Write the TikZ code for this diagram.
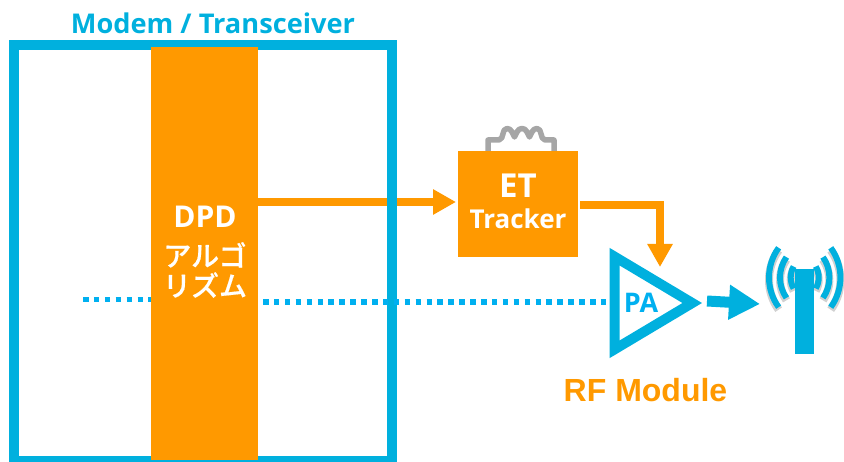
\documentclass[tikz,border=0pt]{standalone}
\usepackage{fontspec}
\setmainfont{Open Sans}
\newfontfamily\cjk[FakeBold=0.5]{Noto Sans CJK JP Medium}
\newfontfamily\rffont{Liberation Sans}
\usetikzlibrary{arrows.meta,shapes.geometric,backgrounds}
\definecolor{boxblue}{HTML}{00B0DE}
\definecolor{dotblue}{HTML}{00B0F0}
\definecolor{flowora}{HTML}{FF9900}
\definecolor{coilgray}{HTML}{A6A6A6}
\begin{document}
\begin{tikzpicture}[x=1pt, y=-1pt,
    block/.style ={rectangle, fill=flowora, inner sep=0pt, outer sep=0pt},
    modembox/.style ={rectangle, draw=boxblue, line width=10pt, inner sep=0pt, outer sep=0pt,
      minimum width=378pt, minimum height=416pt},
    amp/.style ={isosceles triangle, isosceles triangle stretches, draw=boxblue, line width=10pt,
      inner sep=0pt, outer sep=0pt, minimum width=92.5pt, minimum height=77.5pt},
    whitetext/.style ={text=white, inner sep=0pt},
    flow/.style ={draw=flowora, line width=8pt, -{Triangle[length=23pt, width=24pt]}},
    rfflow/.style ={draw=boxblue, line width=11pt, -{Triangle[length=31pt, width=33pt]}},
    dotline/.style ={draw=dotblue, line width=5.5pt, dash pattern=on 5.5pt off 5.4pt},
    wave/.style ={draw=boxblue, line width=6pt},
    waveshade/.style ={draw=black, opacity=.18, line width=8pt}]
   \useasboundingbox (0,0) rectangle (844,462);
   % blocks
   \node[block, minimum width=107pt, minimum height=413pt] (dpd) at (204.5,253.5) {};
   \node[block, minimum width=120pt, minimum height=106pt] (et) at (518,204) {};
   \node[amp, text=dotblue, font=\bfseries\fontsize{27}{30}\selectfont] (pa) at (641,303) {PA};
   % free ends
   \coordinate (etin) at (456,202);
   \coordinate (etout) at (580,205);
   \coordinate (pain) at (660,267);
   \coordinate (paout) at (707,301);
   \coordinate (mastin) at (760,304);
   \coordinate (dotleft) at (83,299.5);
   \coordinate (dotright) at (606,302);
   \begin{scope}[on background layer]
     \draw[flow] (dpd.east |- etin) -- (etin);
     \node[modembox] (modem) at (203,253) {};
   \end{scope}
   \draw[flow] (etout) -| (pain);
   \draw[rfflow] (paout) -- (mastin);
   \draw[dotline] (dotleft) -- (dotleft -| dpd.west);
   \draw[dotline, shorten <=5pt] (dpd.east |- dotright) -- (dotright);
   % coil
   \draw[draw=coilgray, line width=5.5pt, line join=round] (488,151) -- (488,140) -- (499,140)
     to[out=10, in=180] (507,128.5) to[out=0, in=120] (514.5,137) to[out=60, in=180] (522,128.5)
     to[out=0, in=120] (529.5,137) to[out=60, in=180] (537,128.5) to[out=0, in=170] (545,140)
     -- (554,140) -- (554,151);
   % antenna
   \foreach \d/\r/\a in {14/22/30, 24.7/35.5/35, 35.7/50.5/36} {
     \draw[waveshade] (804.7-\d,280) arc[start angle=180, end angle=180-\a, radius=\r pt]
       (804.7-\d,280) arc[start angle=180, end angle=180+\a, radius=\r pt];
     \draw[waveshade] (804.7+\d,280) arc[start angle=0, end angle=\a, radius=\r pt]
       (804.7+\d,280) arc[start angle=0, end angle=-\a, radius=\r pt];
     \draw[wave] (804.7-\d,277.5) arc[start angle=180, end angle=180-\a, radius=\r pt]
       (804.7-\d,277.5) arc[start angle=180, end angle=180+\a, radius=\r pt];
     \draw[wave] (804.7+\d,277.5) arc[start angle=0, end angle=\a, radius=\r pt]
       (804.7+\d,277.5) arc[start angle=0, end angle=-\a, radius=\r pt];
   }
   \node[rectangle, fill=boxblue, inner sep=0pt, minimum width=19pt, minimum height=85pt] (mast) at (804.7,311.5) {};
   % labels
   \node[text=boxblue, font=\bfseries\fontsize{27.2}{30}\selectfont, inner sep=0pt] (modemtitle) at (213,23) {Modem / Transceiver};
   \node[whitetext, font=\bfseries\fontsize{30}{30}\selectfont] (dpdtitle) at (205,217) {DPD};
   \node[whitetext, font=\cjk\fontsize{28}{30}\selectfont, align=center] (dpdalgo) at (205,270) {アルゴ\\リズム};
   \node[whitetext, font=\bfseries\fontsize{33}{30}\selectfont] (ettitle) at (518,186) {ET};
   \node[whitetext, font=\bfseries\fontsize{26}{30}\selectfont] (ettracker) at (518,219) {Tracker};
   \node[text=flowora, font=\rffont\bfseries\fontsize{32}{30}\selectfont, inner sep=0pt] (rftitle) at (645.5,390) {RF Module};
\end{tikzpicture}
\end{document}
